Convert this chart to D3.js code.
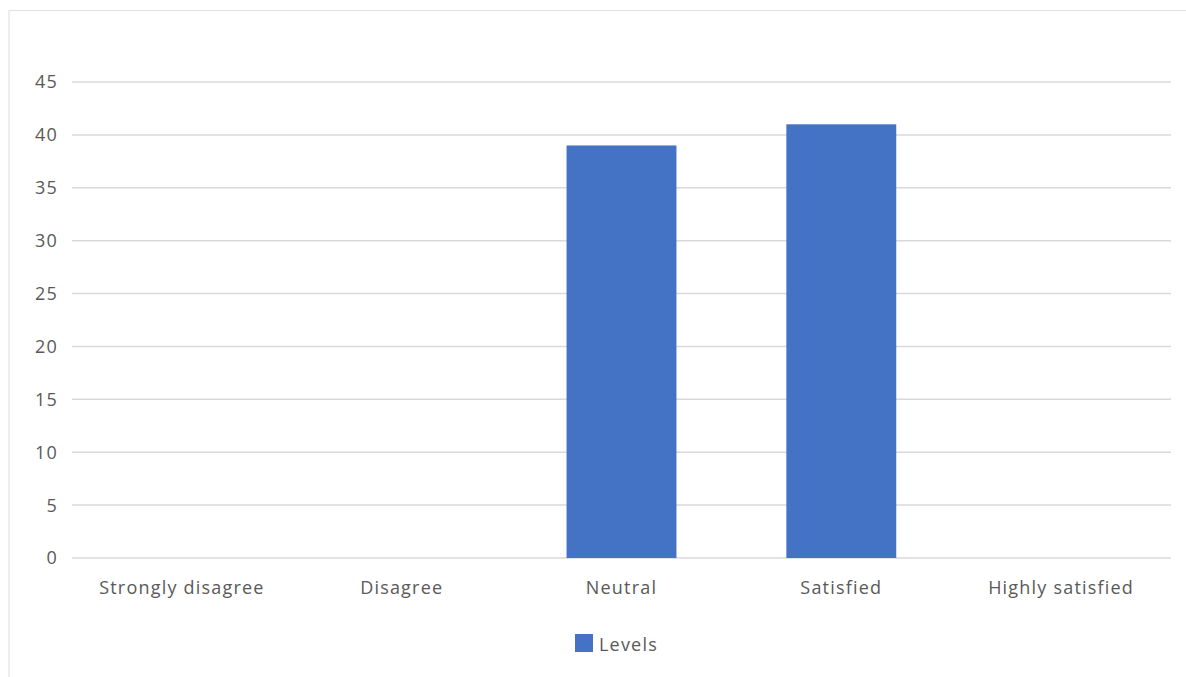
<!DOCTYPE html>
<html>
<head>
<meta charset="utf-8">
<script src="https://cdn.jsdelivr.net/npm/d3@7"></script>
<style>
  html, body { margin: 0; padding: 0; background: #fff; }
  svg { display: block; }
  text { font-family: "Open Sans", "Noto Sans", sans-serif; fill: #595959; font-size: 18px; letter-spacing: 1.2px; }
</style>
</head>
<body>
<svg id="chart" width="1186" height="677"></svg>
<script>
// Response counts per satisfaction level
const categories = ["Strongly disagree", "Disagree", "Neutral", "Satisfied", "Highly satisfied"];
const levels = [0, 0, 39, 41, 0];
const yTicks = [0, 5, 10, 15, 20, 25, 30, 35, 40, 45];
const seriesName = "Levels";

const svg = d3.select("#chart");
const W = 1186, H = 677;
const plot = { left: 72, right: 1171, top: 82, bottom: 558 };

// Outer chart frame
svg.append("rect")
  .attr("x", 9).attr("y", 10.5)
  .attr("width", W + 10).attr("height", H)
  .attr("fill", "#fff")
  .attr("stroke", "#e3e3e3").attr("stroke-width", 1.2);

const x = d3.scaleBand()
  .domain(categories)
  .range([plot.left, plot.right])
  .paddingInner(0.5).paddingOuter(0.25);

const y = d3.scaleLinear()
  .domain([0, 45])
  .range([plot.bottom, plot.top]);

// Horizontal gridlines
svg.append("g")
  .selectAll("line")
  .data(yTicks)
  .join("line")
  .attr("x1", plot.left).attr("x2", plot.right)
  .attr("y1", d => y(d)).attr("y2", d => y(d))
  .attr("stroke", "#d9d9d9").attr("stroke-width", 1.5);

// Y tick labels
svg.append("g")
  .selectAll("text")
  .data(yTicks)
  .join("text")
  .attr("x", 58)
  .attr("y", d => y(d))
  .attr("dy", "0.36em")
  .attr("text-anchor", "end")
  .text(d => d);

// Bars
svg.append("g")
  .selectAll("rect")
  .data(categories.map((c, i) => ({ c, v: levels[i] })))
  .join("rect")
  .attr("x", d => x(d.c))
  .attr("width", x.bandwidth())
  .attr("y", d => y(d.v))
  .attr("height", d => y(0) - y(d.v))
  .attr("fill", "#4472c4");

// Category labels
svg.append("g")
  .selectAll("text")
  .data(categories)
  .join("text")
  .attr("x", d => x(d) + x.bandwidth() / 2)
  .attr("y", 594)
  .attr("text-anchor", "middle")
  .text(d => d);

// Legend
const legend = svg.append("g");
legend.append("rect")
  .attr("x", 575).attr("y", 634)
  .attr("width", 18).attr("height", 18)
  .attr("fill", "#4472c4");
legend.append("text")
  .attr("x", 599).attr("y", 651)
  .text(seriesName);
</script>
</body>
</html>
